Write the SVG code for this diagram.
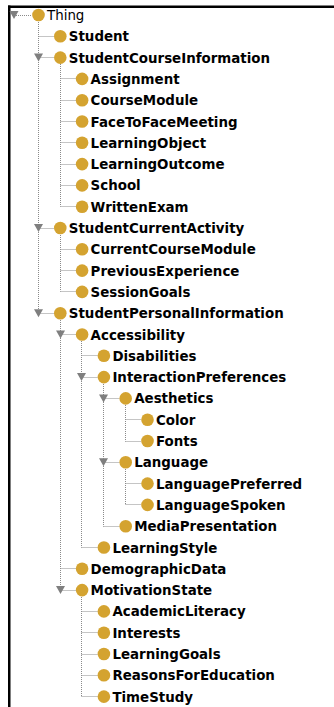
<svg xmlns="http://www.w3.org/2000/svg" xmlns:xlink="http://www.w3.org/1999/xlink" width="334" height="707" viewBox="0 0 334 707">
<style>
.c{fill:#d4a330}
.t{font-family:"DejaVu Sans",Verdana,sans-serif;font-size:13.4px;font-weight:bold;fill:#000}
.t0{font-weight:normal}
.d{stroke:#8a8a8a;stroke-width:1;stroke-dasharray:1 1;fill:none}
</style>
<defs>
<path id="tri" d="M-4.5,-4 H4.5 L0,4 Z" fill="#7f7f7f"/>
</defs>
<rect x="0" y="0" width="334" height="707" fill="#fff"/>
<rect x="8" y="5.5" width="326" height="2.5" fill="#000"/>
<rect x="8" y="5.5" width="2.5" height="701.5" fill="#000"/>
<g id="connectors" class="d">
<path d="M14 15.5H32"/>
<path d="M38.5 22V313.5"/>
<path d="M60.5 64V206.5"/>
<path d="M60.5 235V291.5"/>
<path d="M60.5 320V590.5"/>
<path d="M81.5 341V547.5"/>
<path d="M103.5 384V526.5"/>
<path d="M125.5 405V441.5"/>
<path d="M125.5 469V504.5"/>
<path d="M81.5 597V696.5"/>
<path d="M38.5 36.5H54.3M38.5 57.5H54.3M38.5 228.5H54.3M38.5 313.5H54.3"/>
<path d="M60.5 78.5H76.1M60.5 100.5H76.1M60.5 121.5H76.1M60.5 142.5H76.1M60.5 164.5H76.1M60.5 185.5H76.1M60.5 206.5H76.1"/>
<path d="M60.5 249.5H76.1M60.5 270.5H76.1M60.5 291.5H76.1"/>
<path d="M60.5 334.5H76.1M60.5 568.5H76.1M60.5 590.5H76.1"/>
<path d="M81.5 355.5H97.9M81.5 377.5H97.9M81.5 547.5H97.9"/>
<path d="M81.5 611.5H97.9M81.5 632.5H97.9M81.5 654.5H97.9M81.5 675.5H97.9M81.5 696.5H97.9"/>
<path d="M103.5 398.5H119.7M103.5 462.5H119.7M103.5 526.5H119.7"/>
<path d="M125.5 419.5H141.5M125.5 441.5H141.5M125.5 483.5H141.5M125.5 504.5H141.5"/>
</g>
<g id="n-Thing"><use xlink:href="#tri" x="14" y="15"/><circle class="c" cx="38.5" cy="15" r="6.3"/><text class="t t0" x="47" y="20">Thing</text></g>
<g id="n-Student"><circle class="c" cx="60.3" cy="36.3" r="6.3"/><text class="t" x="68.8" y="41.3">Student</text></g>
<g id="n-StudentCourseInformation"><use xlink:href="#tri" x="38.5" y="57.6"/><circle class="c" cx="60.3" cy="57.6" r="6.3"/><text class="t" x="68.8" y="62.6">StudentCourseInformation</text></g>
<g id="n-Assignment"><circle class="c" cx="82.1" cy="78.9" r="6.3"/><text class="t" x="90.6" y="83.9">Assignment</text></g>
<g id="n-CourseModule"><circle class="c" cx="82.1" cy="100.2" r="6.3"/><text class="t" x="90.6" y="105.2">CourseModule</text></g>
<g id="n-FaceToFaceMeeting"><circle class="c" cx="82.1" cy="121.5" r="6.3"/><text class="t" x="90.6" y="126.5">FaceToFaceMeeting</text></g>
<g id="n-LearningObject"><circle class="c" cx="82.1" cy="142.8" r="6.3"/><text class="t" x="90.6" y="147.8">LearningObject</text></g>
<g id="n-LearningOutcome"><circle class="c" cx="82.1" cy="164.1" r="6.3"/><text class="t" x="90.6" y="169.1">LearningOutcome</text></g>
<g id="n-School"><circle class="c" cx="82.1" cy="185.4" r="6.3"/><text class="t" x="90.6" y="190.4">School</text></g>
<g id="n-WrittenExam"><circle class="c" cx="82.1" cy="206.7" r="6.3"/><text class="t" x="90.6" y="211.7">WrittenExam</text></g>
<g id="n-StudentCurrentActivity"><use xlink:href="#tri" x="38.5" y="228"/><circle class="c" cx="60.3" cy="228" r="6.3"/><text class="t" x="68.8" y="233">StudentCurrentActivity</text></g>
<g id="n-CurrentCourseModule"><circle class="c" cx="82.1" cy="249.3" r="6.3"/><text class="t" x="90.6" y="254.3">CurrentCourseModule</text></g>
<g id="n-PreviousExperience"><circle class="c" cx="82.1" cy="270.6" r="6.3"/><text class="t" x="90.6" y="275.6">PreviousExperience</text></g>
<g id="n-SessionGoals"><circle class="c" cx="82.1" cy="291.9" r="6.3"/><text class="t" x="90.6" y="296.9">SessionGoals</text></g>
<g id="n-StudentPersonalInformation"><use xlink:href="#tri" x="38.5" y="313.2"/><circle class="c" cx="60.3" cy="313.2" r="6.3"/><text class="t" x="68.8" y="318.2">StudentPersonalInformation</text></g>
<g id="n-Accessibility"><use xlink:href="#tri" x="60.5" y="334.5"/><circle class="c" cx="82.1" cy="334.5" r="6.3"/><text class="t" x="90.6" y="339.5">Accessibility</text></g>
<g id="n-Disabilities"><circle class="c" cx="103.9" cy="355.8" r="6.3"/><text class="t" x="112.4" y="360.8">Disabilities</text></g>
<g id="n-InteractionPreferences"><use xlink:href="#tri" x="81.5" y="377.1"/><circle class="c" cx="103.9" cy="377.1" r="6.3"/><text class="t" x="112.4" y="382.1">InteractionPreferences</text></g>
<g id="n-Aesthetics"><use xlink:href="#tri" x="103.5" y="398.4"/><circle class="c" cx="125.7" cy="398.4" r="6.3"/><text class="t" x="134.2" y="403.4">Aesthetics</text></g>
<g id="n-Color"><circle class="c" cx="147.5" cy="419.7" r="6.3"/><text class="t" x="156" y="424.7">Color</text></g>
<g id="n-Fonts"><circle class="c" cx="147.5" cy="441" r="6.3"/><text class="t" x="156" y="446">Fonts</text></g>
<g id="n-Language"><use xlink:href="#tri" x="103.5" y="462.3"/><circle class="c" cx="125.7" cy="462.3" r="6.3"/><text class="t" x="134.2" y="467.3">Language</text></g>
<g id="n-LanguagePreferred"><circle class="c" cx="147.5" cy="483.6" r="6.3"/><text class="t" x="156" y="488.6">LanguagePreferred</text></g>
<g id="n-LanguageSpoken"><circle class="c" cx="147.5" cy="504.9" r="6.3"/><text class="t" x="156" y="509.9">LanguageSpoken</text></g>
<g id="n-MediaPresentation"><circle class="c" cx="125.7" cy="526.2" r="6.3"/><text class="t" x="134.2" y="531.2">MediaPresentation</text></g>
<g id="n-LearningStyle"><circle class="c" cx="103.9" cy="547.5" r="6.3"/><text class="t" x="112.4" y="552.5">LearningStyle</text></g>
<g id="n-DemographicData"><circle class="c" cx="82.1" cy="568.8" r="6.3"/><text class="t" x="90.6" y="573.8">DemographicData</text></g>
<g id="n-MotivationState"><use xlink:href="#tri" x="60.5" y="590.1"/><circle class="c" cx="82.1" cy="590.1" r="6.3"/><text class="t" x="90.6" y="595.1">MotivationState</text></g>
<g id="n-AcademicLiteracy"><circle class="c" cx="103.9" cy="611.4" r="6.3"/><text class="t" x="112.4" y="616.4">AcademicLiteracy</text></g>
<g id="n-Interests"><circle class="c" cx="103.9" cy="632.7" r="6.3"/><text class="t" x="112.4" y="637.7">Interests</text></g>
<g id="n-LearningGoals"><circle class="c" cx="103.9" cy="654" r="6.3"/><text class="t" x="112.4" y="659">LearningGoals</text></g>
<g id="n-ReasonsForEducation"><circle class="c" cx="103.9" cy="675.3" r="6.3"/><text class="t" x="112.4" y="680.3">ReasonsForEducation</text></g>
<g id="n-TimeStudy"><circle class="c" cx="103.9" cy="696.6" r="6.3"/><text class="t" x="112.4" y="701.6">TimeStudy</text></g>
</svg>
